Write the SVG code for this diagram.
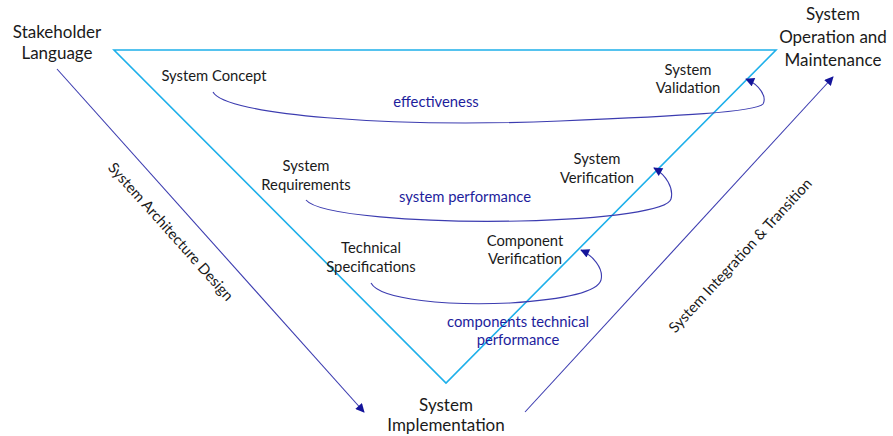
<svg xmlns="http://www.w3.org/2000/svg" width="893" height="436" viewBox="0 0 893 436">
<defs>
<marker id="ah" viewBox="0 0 10 10" refX="9" refY="5" markerWidth="10" markerHeight="9" markerUnits="userSpaceOnUse" orient="auto">
<path d="M0,0 L10,5 L0,10 Z" fill="#14149a"/>
</marker>
</defs>
<style>
.t{font-family:Lato,"Open Sans",sans-serif;fill:#1a1a1a;text-anchor:middle}
.big{font-size:17px}
.sm{font-size:14.8px}
.b{fill:#1d1d9c;font-size:14.8px}
.c{fill:none;stroke:#3c3cb0;stroke-width:1.1}
.v{fill:none;stroke:#1eb0ea;stroke-width:1.6}
</style>
<rect width="893" height="436" fill="#fff"/>
<g id="vee"><path class="v" d="M114,50 L776,50 L446,383 Z"/></g>
<g id="connectors">
<path class="c" d="M57,69 L364,412" marker-end="url(#ah)"/>
<path class="c" d="M525,412 L833,77" marker-end="url(#ah)"/>
<path class="c" d="M213,92 C225,115 390,128 560,121 C680,116 756,112 763,104 C767,97 760,85 746,79" marker-end="url(#ah)"/>
<path class="c" d="M306,200 C318,215 420,223 520,221 C610,219 668,210 671,199 C674,188 666,175 654,168" marker-end="url(#ah)"/>
<path class="c" d="M371,283 C380,300 450,306 510,303 C570,299 598,291 601,280 C604,268 592,255 581,250" marker-end="url(#ah)"/>
</g>
<g id="stakeholder"><text class="t big" x="57" y="38">Stakeholder</text><text class="t big" x="57" y="59">Language</text></g>
<g id="operation"><text class="t big" x="833" y="20">System</text><text class="t big" x="833" y="43">Operation and</text><text class="t big" x="833" y="66">Maintenance</text></g>
<g id="implementation"><text class="t big" x="446" y="411">System</text><text class="t big" x="446" y="431">Implementation</text></g>
<g id="concept"><text class="t sm" x="214" y="81">System Concept</text></g>
<g id="validation"><text class="t sm" x="688" y="75">System</text><text class="t sm" x="688" y="93">Validation</text></g>
<g id="requirements"><text class="t sm" x="306" y="171">System</text><text class="t sm" x="306" y="190">Requirements</text></g>
<g id="sysverif"><text class="t sm" x="597" y="164">System</text><text class="t sm" x="597" y="183">Verification</text></g>
<g id="techspec"><text class="t sm" x="371" y="253">Technical</text><text class="t sm" x="371" y="272">Specifications</text></g>
<g id="compverif"><text class="t sm" x="525" y="246">Component</text><text class="t sm" x="525" y="264">Verification</text></g>
<g id="labels">
<text class="t b" x="436" y="107">effectiveness</text>
<text class="t b" x="465" y="202">system performance</text>
<text class="t b" x="518" y="327">components technical</text>
<text class="t b" x="518" y="345">performance</text>
<text class="t sm" transform="translate(167,235) rotate(48.2)">System Architecture Design</text>
<text class="t sm" transform="translate(744,259) rotate(-47.4)">System Integration &amp; Transition</text>
</g>
</svg>
